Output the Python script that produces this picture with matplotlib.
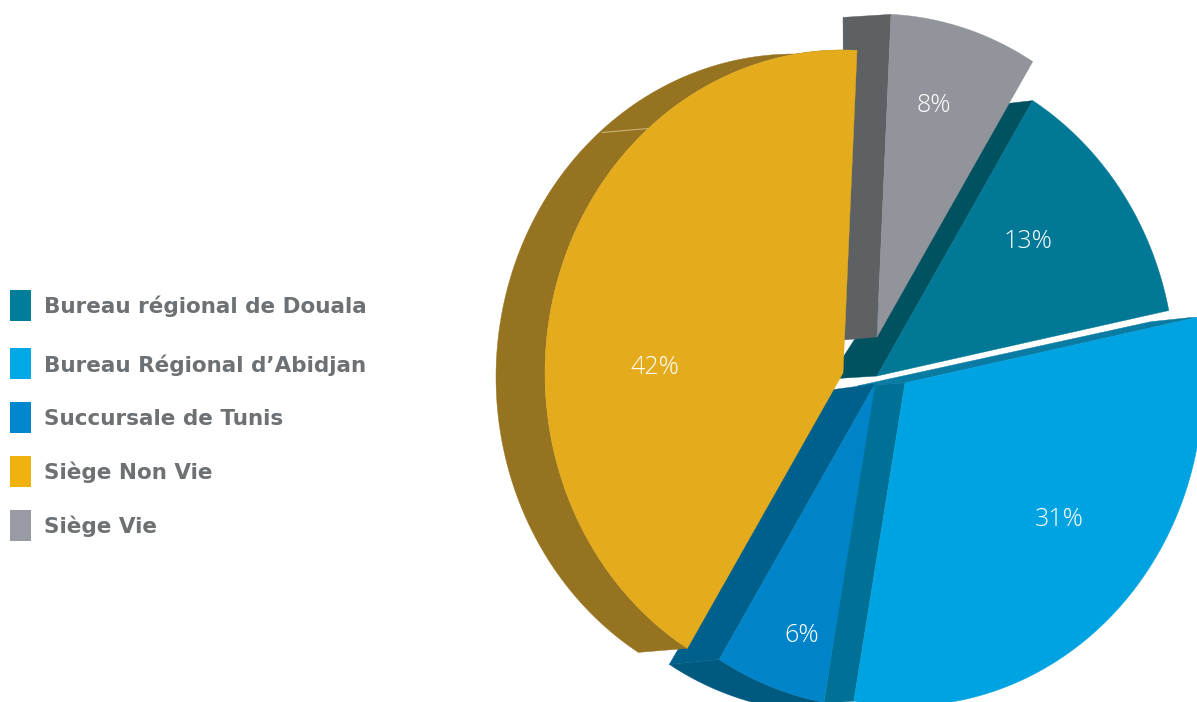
import numpy as np
import matplotlib
matplotlib.use("Agg")
import matplotlib.pyplot as plt
from matplotlib.patches import Polygon, Rectangle

# Data
labels = ["Bureau régional de Douala", "Bureau Régional d’Abidjan", "Succursale de Tunis",
          "Siège Non Vie", "Siège Vie"]
shares = [13, 31, 6, 42, 8]

# Colours
face_colors = ["#007896", "#00A3E2", "#0084C9", "#E4AC1C", "#92949C"]
wall_colors = ["#005260", "#007196", "#00608C", "#967320", "#5E6163"]
legend_colors = ["#007D9B", "#00A9E6", "#0087CD", "#F0B20F", "#989BA3"]
text_color = "#6D7174"

# Pie geometry, in pixels
rx, ry = 298, 323
start_angle = 58.5
centers = [(877, 376), (905, 383), (875, 384), (843, 373), (877, 337)]
label_pos = [(1028, 241), (1059, 519), (802, 636), (655, 367), (934, 105)]
legend_y = [290, 348, 402, 456, 510]
legend_text_y = [306, 365, 419, 472, 526]


def rim(center, t):
    t = np.radians(t)
    return np.column_stack([center[0] + rx*np.cos(t), center[1] - ry*np.sin(t)])


def edge_wall(ax, center, t, apex_off, rim_off, color, zorder, bow=0):
    p = rim(center, t)[0]
    outer = np.array([p[0]+rim_off[0], p[1]+rim_off[1]])
    inner = np.array([center[0]+apex_off[0], center[1]+apex_off[1]])
    pts = [center, p, outer]
    if bow:
        # outer edge bends near the rim
        pts.append(inner + 0.88*(outer - inner) - [0, bow])
    pts.append(inner)
    ax.add_patch(Polygon(pts, closed=True, fc=color, ec=color, lw=0.3, zorder=zorder))


def arc_wall(ax, center, t0, t1, off, color, zorder):
    arc = rim(center, np.linspace(t0, t1, 200))
    pts = np.vstack([arc, (arc + off)[::-1]])
    ax.add_patch(Polygon(pts, closed=True, fc=color, ec=color, lw=0.3, zorder=zorder))


def face(ax, center, t0, t1, color, zorder):
    arc = rim(center, np.linspace(t0, t1, 200))
    pts = np.vstack([[center], arc])
    ax.add_patch(Polygon(pts, closed=True, fc=color, ec=color, lw=0.3, zorder=zorder))


fig = plt.figure(figsize=(11.97, 7.02), dpi=100)
ax = fig.add_axes([0, 0, 1, 1])
ax.set_xlim(0, 1197)
ax.set_ylim(702, 0)
ax.axis("off")

# Slice angles run clockwise from the start angle
bounds = start_angle - np.cumsum([0] + shares) * 3.6

# Douala
edge_wall(ax, centers[0], bounds[0], (-48, 3), (-26, 3), wall_colors[0], 1)
face(ax, centers[0], bounds[0], bounds[1], face_colors[0], 2)

# Abidjan
edge_wall(ax, centers[1], bounds[1], (-48, 3), (-6, 0), "#0A7CA3", 3, bow=4)
edge_wall(ax, centers[1], bounds[2], (-32, 2), (-30, 2), wall_colors[1], 4)
face(ax, centers[1], bounds[1], bounds[2], face_colors[1], 6)

# Tunis
arc_wall(ax, centers[2], bounds[2], bounds[3], (-50, 5), "#005A80", 3)
edge_wall(ax, centers[2], bounds[3], (-45, 6), (-50, 5), wall_colors[2], 4)
face(ax, centers[2], bounds[2], bounds[3], face_colors[2], 5)

# Siège Non Vie
arc_wall(ax, centers[3], bounds[3], bounds[4], (-49, 4), wall_colors[3], 7)
face(ax, centers[3], bounds[3], bounds[4], face_colors[3], 9)
seam = rim(centers[3], 130.8)[0]
ax.plot([seam[0], seam[0]-46], [seam[1], seam[1]+4], color="#C9B27A", lw=0.8, zorder=8)

# Siège Vie
edge_wall(ax, centers[4], bounds[4], (-33, 3), (-48, 3), wall_colors[4], 7)
face(ax, centers[4], bounds[4], bounds[5], face_colors[4], 8)

# Percent labels
for (x, y), s in zip(label_pos, shares):
    ax.text(x, y, f"{s}%", color="white", fontsize=18, family="Open Sans", fontweight="light",
            ha="center", va="center", zorder=20)

# Legend
for i, lab in enumerate(labels):
    ax.add_patch(Rectangle((10, legend_y[i]), 21, 31, fc=legend_colors[i], ec="none"))
    ax.text(44, legend_text_y[i], lab, color=text_color, fontsize=15.5, family="DejaVu Sans",
            fontweight="bold", ha="left", va="center")

fig.savefig("out.png", dpi=100)
